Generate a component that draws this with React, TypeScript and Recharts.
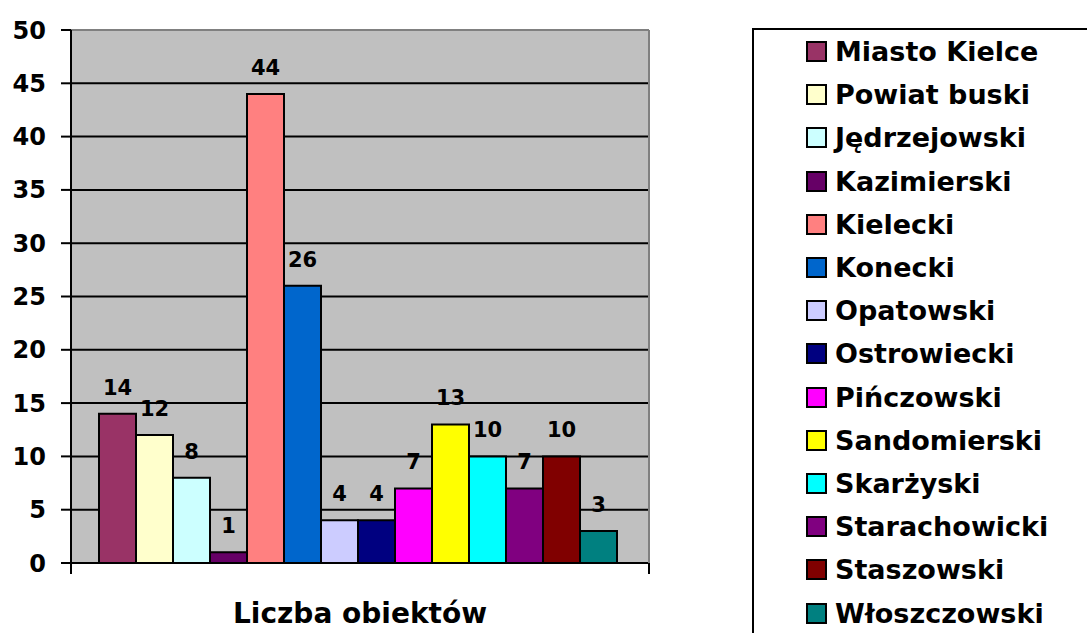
import { BarChart, Bar, XAxis, YAxis, CartesianGrid, Legend, LabelList, ReferenceLine } from 'recharts'

// jedna kategoria, 14 serii (powiaty)
const category = 'Liczba obiektów'
const districts = [
  'Miasto Kielce',
  'Powiat buski',
  'Jędrzejowski',
  'Kazimierski',
  'Kielecki',
  'Konecki',
  'Opatowski',
  'Ostrowiecki',
  'Pińczowski',
  'Sandomierski',
  'Skarżyski',
  'Starachowicki',
  'Staszowski',
  'Włoszczowski',
]
const counts = [14, 12, 8, 1, 44, 26, 4, 4, 7, 13, 10, 7, 10, 3]
const colors = [
  '#993366', '#FFFFCC', '#CCFFFF', '#660066', '#FF8080', '#0066CC', '#CCCCFF',
  '#000080', '#FF00FF', '#FFFF00', '#00FFFF', '#800080', '#800000', '#008080',
]
const yTicks = [0, 5, 10, 15, 20, 25, 30, 35, 40, 45, 50]

const row: Record<string, string | number> = { name: category }
districts.forEach((d, i) => {
  row[d] = counts[i]
})
const data = [row]

const font = '"DejaVu Sans", sans-serif'

const CHART_W = 1087
const CHART_H = 633
const MARGIN = { top: 30, right: 92, bottom: 69, left: 16 }
const Y_AXIS_W = 55
const RIGHT_AXIS_W = 1
const LEGEND_W = 345
// szerokosc obszaru wykresu (do kresek na krancach osi X)
const PLOT_W = CHART_W - MARGIN.left - MARGIN.right - Y_AXIS_W - RIGHT_AXIS_W - LEGEND_W

// etykieta kategorii + kreski na brzegach osi jak w Excelu
function CategoryTick(props: any) {
  const { x, y, payload } = props
  return (
    <g>
      <line x1={x - PLOT_W / 2} x2={x - PLOT_W / 2} y1={y} y2={y + 11} stroke="#000" strokeWidth={2} />
      <line x1={x + PLOT_W / 2} x2={x + PLOT_W / 2} y1={y} y2={y + 11} stroke="#000" strokeWidth={2} />
      <text
        x={x}
        y={y + 60}
        textAnchor="middle"
        fill="#000"
        style={{ fontFamily: font, fontWeight: 'bold', fontSize: 28 }}
      >
        {payload.value}
      </text>
    </g>
  )
}

// legenda w kolejnosci serii (recharts sortuje alfabetycznie)
function renderLegend() {
  return (
    <div
      style={{
        width: LEGEND_W,
        height: 620,
        border: '2px solid #000',
        boxSizing: 'border-box',
        background: '#fff',
        fontFamily: font,
        fontWeight: 'bold',
        fontSize: 27,
        color: '#000',
      }}
    >
      {districts.map((d, i) => (
        <div
          key={d}
          style={{ height: 43.2, display: 'flex', alignItems: 'center', paddingLeft: 52 }}
        >
          <span
            style={{
              width: 21,
              height: 21,
              boxSizing: 'border-box',
              border: '2px solid #000',
              background: colors[i],
              display: 'inline-block',
            }}
          />
          <span style={{ marginLeft: 8, whiteSpace: 'nowrap' }}>{d}</span>
        </div>
      ))}
    </div>
  )
}

export default function App() {
  return (
    <div
      style={{
        position: 'absolute',
        left: 0,
        top: 0,
        width: CHART_W,
        height: CHART_H,
        overflow: 'hidden',
        background: '#fff',
      }}
    >
      <BarChart
        width={CHART_W}
        height={CHART_H}
        data={data}
        margin={MARGIN}
        barCategoryGap={28}
        barGap={0}
      >
        <CartesianGrid horizontal vertical={false} fill="#C0C0C0" stroke="#000" strokeWidth={2} />
        <XAxis
          dataKey="name"
          height={1}
          axisLine={{ stroke: '#000', strokeWidth: 2 }}
          tickLine={false}
          tickSize={0}
          tickMargin={0}
          tick={<CategoryTick />}
        />
        <YAxis
          width={Y_AXIS_W}
          domain={[0, 50]}
          ticks={yTicks}
          interval={0}
          axisLine={{ stroke: '#000', strokeWidth: 2 }}
          tickLine={{ stroke: '#000', strokeWidth: 2 }}
          tickSize={10}
          tickMargin={15}
          tick={{ fontFamily: font, fontWeight: 'bold', fontSize: 24, fill: '#000' }}
        />
        <YAxis
          yAxisId="border"
          orientation="right"
          width={RIGHT_AXIS_W}
          domain={[0, 50]}
          axisLine={{ stroke: '#808080', strokeWidth: 2 }}
          tickLine={false}
          tick={false}
        />
        <ReferenceLine y={50} stroke="#808080" strokeWidth={2} />
        <Legend
          layout="horizontal"
          verticalAlign="middle"
          align="right"
          content={renderLegend}
          wrapperStyle={{ position: 'absolute', left: 752, top: 28, width: LEGEND_W, height: 620 }}
        />
        {districts.map((d, i) => (
          <Bar
            key={d}
            dataKey={d}
            name={d}
            fill={colors[i]}
            stroke="#000"
            strokeWidth={2}
            isAnimationActive={false}
          >
            <LabelList
              dataKey={d}
              position="top"
              offset={19}
              fill="#000"
              style={{ fontFamily: font, fontWeight: 'bold', fontSize: 21 }}
            />
          </Bar>
        ))}
      </BarChart>
    </div>
  )
}
